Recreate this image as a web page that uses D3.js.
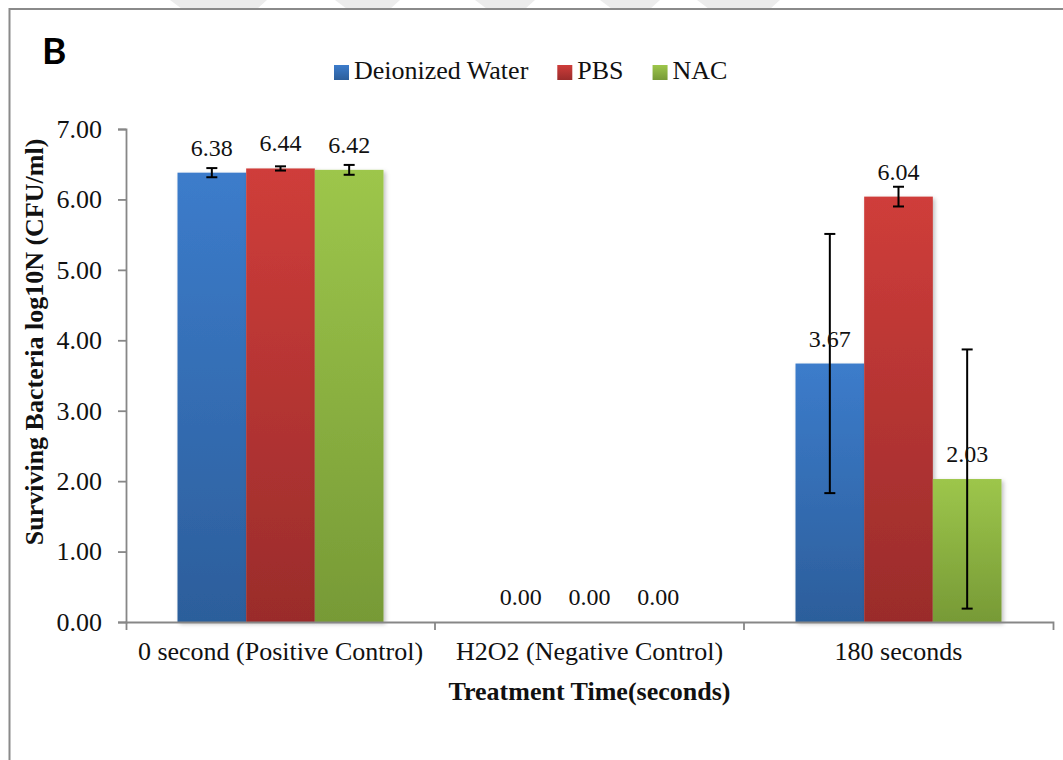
<!DOCTYPE html>
<html>
<head>
<meta charset="utf-8">
<script src="https://cdn.jsdelivr.net/npm/d3@7/dist/d3.min.js"></script>
<style>
body { margin: 0; background: #fff; }
svg { display: block; font-family: "Liberation Serif", "Times New Roman", serif; }
</style>
</head>
<body>
<div id="chart"></div>
<script>
// data
const categories = ["0 second (Positive Control)", "H2O2 (Negative Control)", "180 seconds"];
const seriesNames = ["Deionized Water", "PBS", "NAC"];
const deionizedWater = [6.38, 0.00, 3.67];
const pbs = [6.44, 0.00, 6.04];
const nac = [6.42, 0.00, 2.03];
const deionizedWaterErr = [0.065, 0, 1.84];
const pbsErr = [0.03, 0, 0.14];
const nacErr = [0.07, 0, 1.84];
const yTicks = [0, 1, 2, 3, 4, 5, 6, 7];

const W = 1063, H = 760;
const margin = { top: 129, right: 10, bottom: 138, left: 126 };

const svg = d3.select("#chart").append("svg")
  .attr("width", W)
  .attr("height", H);

svg.append("rect").attr("width", W).attr("height", H).attr("fill", "#fff");

// faint watermark bits above the frame
const marks = [[170, 267], [335, 400], [475, 535], [600, 660], [697, 780]];
svg.selectAll("polygon.wm").data(marks).enter().append("polygon")
  .attr("class", "wm")
  .attr("points", d => `${d[0]},0 ${d[1]},0 ${d[1] - 10},9 ${d[0] + 12},9`)
  .attr("fill", "#ececec");

// outer frame
svg.append("rect")
  .attr("x", 9.5).attr("y", 9)
  .attr("width", W + 20).attr("height", H + 20)
  .attr("fill", "none")
  .attr("stroke", "#8a8a8a")
  .attr("stroke-width", 2);

const defs = svg.append("defs");
const colors = [["#3c7ccb", "#2c5e9b"], ["#cf3d3a", "#9a2c2b"], ["#9dc64b", "#779a36"]];
colors.forEach((c, i) => {
  const g = defs.append("linearGradient").attr("id", "grad" + i)
    .attr("x1", 0).attr("y1", 0).attr("x2", 0).attr("y2", 1);
  g.append("stop").attr("offset", "0%").attr("stop-color", c[0]);
  g.append("stop").attr("offset", "100%").attr("stop-color", c[1]);
});
const shadow = defs.append("filter").attr("id", "shadow")
  .attr("x", "-10%").attr("y", "-10%").attr("width", "130%").attr("height", "130%");
shadow.append("feDropShadow").attr("dx", 2).attr("dy", 2).attr("stdDeviation", 2)
  .attr("flood-color", "#000").attr("flood-opacity", 0.25);

const x = d3.scaleBand()
  .domain(categories)
  .range([margin.left, W - margin.right])
  .paddingInner(0).paddingOuter(0);

const xs = d3.scaleBand()
  .domain(seriesNames)
  .range([0, x.bandwidth()])
  .paddingInner(0).paddingOuter(0.75);

const y = d3.scaleLinear()
  .domain([0, 7])
  .range([H - margin.bottom, margin.top]);

const values = [deionizedWater, pbs, nac];
const errs = [deionizedWaterErr, pbsErr, nacErr];

const data = [];
categories.forEach((c, ci) => {
  seriesNames.forEach((s, si) => {
    data.push({ cat: c, series: s, si: si, value: values[si][ci], err: errs[si][ci] });
  });
});

// bars
svg.append("g").selectAll("rect")
  .data(data.filter(d => d.value > 0))
  .enter().append("rect")
  .attr("x", d => x(d.cat) + xs(d.series))
  .attr("y", d => y(d.value))
  .attr("width", xs.bandwidth())
  .attr("height", d => y(0) - y(d.value))
  .attr("fill", d => "url(#grad" + d.si + ")")
  .attr("filter", "url(#shadow)");

// y axis
const yAxis = d3.axisLeft(y)
  .tickValues(yTicks)
  .tickFormat(d3.format(".2f"))
  .tickSize(8)
  .tickPadding(16);

const gy = svg.append("g")
  .attr("transform", `translate(${margin.left},0)`)
  .call(yAxis);

// x axis, end ticks come from tickSizeOuter
const xAxis = d3.axisBottom(x).tickSize(0).tickSizeOuter(8).tickPadding(20);
const gx = svg.append("g")
  .attr("transform", `translate(0,${y(0)})`)
  .call(xAxis);

// boundary ticks between categories
gx.selectAll("line.sep")
  .data(categories.slice(1))
  .enter().append("line")
  .attr("class", "sep")
  .attr("x1", d => x(d)).attr("x2", d => x(d))
  .attr("y1", 0).attr("y2", 8);

[gx, gy].forEach(g => {
  g.selectAll("path, line").attr("stroke", "#878787").attr("stroke-width", 1.8);
  g.selectAll("text")
    .attr("font-family", "Liberation Serif")
    .attr("font-size", 26)
    .attr("fill", "#111");
});

// error bars
const eb = svg.append("g").attr("stroke", "#000").attr("stroke-width", 2);
data.filter(d => d.err > 0).forEach(d => {
  const cx = x(d.cat) + xs(d.series) + xs.bandwidth() / 2;
  eb.append("line").attr("x1", cx).attr("x2", cx)
    .attr("y1", y(d.value + d.err)).attr("y2", y(d.value - d.err));
  eb.append("line").attr("x1", cx - 5.5).attr("x2", cx + 5.5)
    .attr("y1", y(d.value + d.err)).attr("y2", y(d.value + d.err));
  eb.append("line").attr("x1", cx - 5.5).attr("x2", cx + 5.5)
    .attr("y1", y(d.value - d.err)).attr("y2", y(d.value - d.err));
});

// value labels
svg.append("g").selectAll("text")
  .data(data)
  .enter().append("text")
  .attr("x", d => x(d.cat) + xs(d.series) + xs.bandwidth() / 2)
  .attr("y", d => y(d.value) - 17)
  .attr("text-anchor", "middle")
  .attr("font-size", 24)
  .attr("fill", "#111")
  .text(d => d.value.toFixed(2));

// axis titles
svg.append("text")
  .attr("x", (x.range()[0] + x.range()[1]) / 2)
  .attr("y", 700)
  .attr("text-anchor", "middle")
  .attr("font-size", 26)
  .attr("font-weight", "bold")
  .attr("fill", "#111")
  .text("Treatment Time(seconds)");

svg.append("text")
  .attr("transform", "translate(43,342) rotate(-90)")
  .attr("text-anchor", "middle")
  .attr("font-size", 26)
  .attr("font-weight", "bold")
  .attr("fill", "#111")
  .text("Surviving Bacteria log10N (CFU/ml)");

// panel letter
svg.append("text")
  .attr("x", 42).attr("y", 64)
  .attr("font-family", "Lato, 'Open Sans', sans-serif")
  .attr("font-weight", "bold")
  .attr("font-size", 37)
  .attr("fill", "#000")
  .text("B");

// legend
let lx = 334;
seriesNames.forEach((s, i) => {
  svg.append("rect")
    .attr("x", lx).attr("y", 65)
    .attr("width", 15).attr("height", 15)
    .attr("fill", "url(#grad" + i + ")");
  const t = svg.append("text")
    .attr("x", lx + 20).attr("y", 79)
    .attr("font-size", 26)
    .attr("fill", "#111")
    .text(s);
  lx = lx + 20 + t.node().getComputedTextLength() + 29;
});
</script>
</body>
</html>
